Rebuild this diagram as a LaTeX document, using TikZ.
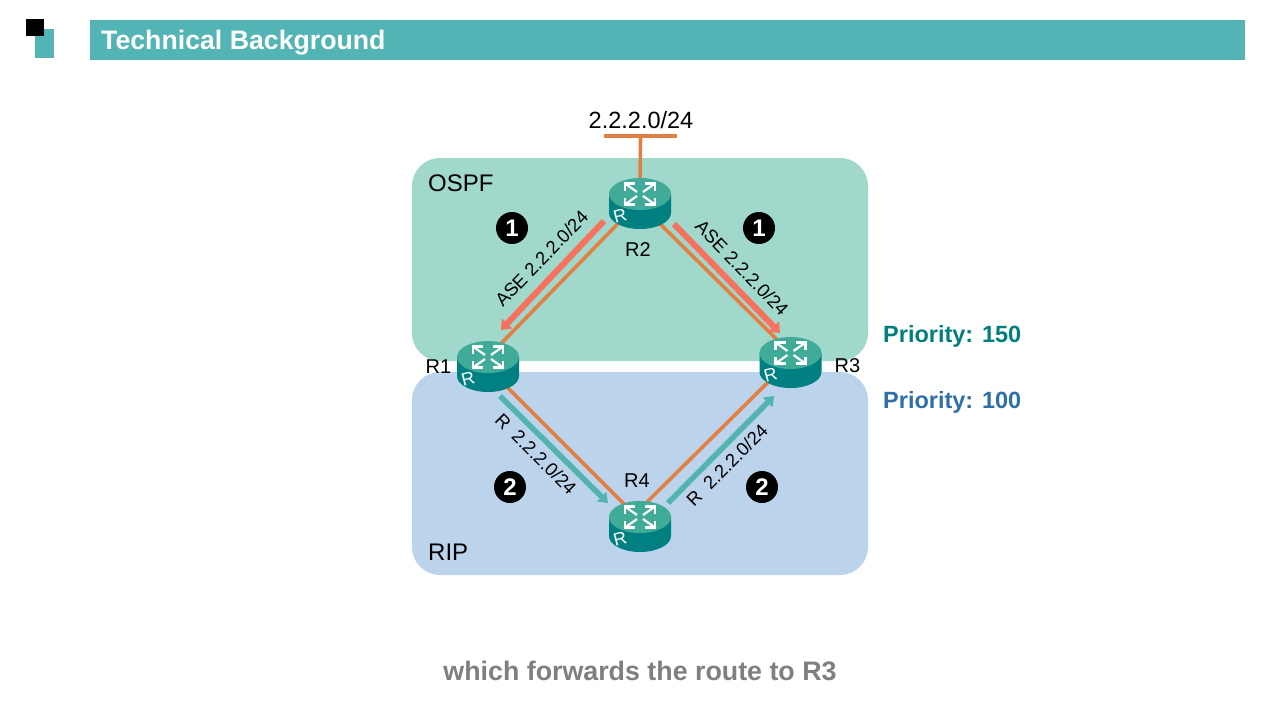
\documentclass[tikz,border=0pt]{standalone}
\usepackage{fontspec}
\setmainfont{Liberation Sans}
\usepackage{xcolor}
\usetikzlibrary{arrows.meta}
\usetikzlibrary{calc}
\definecolor{barteal}{HTML}{52B4B4}
\definecolor{ospfarea}{HTML}{A0D8CC}
\definecolor{riparea}{HTML}{BCD3EC}
\definecolor{linkorange}{HTML}{E28043}
\definecolor{asered}{HTML}{F8705E}
\definecolor{ripgreen}{HTML}{52B4AC}
\definecolor{routertop}{HTML}{3FAB98}
\definecolor{routerside}{HTML}{008080}
\definecolor{prioteal}{HTML}{007F7C}
\definecolor{prioblue}{HTML}{2F6FA8}
\definecolor{captiongrey}{HTML}{7F7F7F}
\tikzset{
  px/.style={font=\fontsize{#1}{#1}\selectfont},
  pxb/.style={font=\bfseries\fontsize{#1}{#1}\selectfont},
  area/.style={rounded corners=28pt, minimum width=456pt, inner sep=0pt},
  routerbox/.style={inner sep=0pt, minimum width=62pt, minimum height=34pt},
  link/.style={linkorange, line width=3.6pt},
  asearrow/.style={asered, line width=6pt, -{Triangle[length=9pt,width=14pt]}},
  riparrow/.style={ripgreen, line width=5.5pt, -{Triangle[length=9pt,width=13pt]}},
  badge/.style={circle, fill=black, text=white, minimum size=32pt, inner sep=0pt, pxb=24},
  pics/router/.style={code={
    \fill[routerside] (-31,0) -- (-31,19) arc[start angle=180, end angle=0, x radius=31, y radius=16] -- (31,0) -- cycle;
    \fill[routertop] (0,0) ellipse[x radius=31, y radius=16];
    \foreach \sx in {1,-1}{
      \foreach \sy in {1,-1}{
        \draw[white, line width=2.2pt, line join=miter]
          (\sx*5,\sy*10.5) -- (\sx*15,\sy*10.5) -- (\sx*15,\sy*3.5);
        \draw[white, line width=2.2pt] (\sx*15,\sy*10.5) -- (\sx*3,\sy*2);
      }
    }
    \node[white, px=18, rotate=15, inner sep=0pt] at (-20,22) {R};
  }}
}
\begin{document}
\begin{tikzpicture}[x=1pt, y=-1pt]
\useasboundingbox (0,0) rectangle (1280,720);

% header
\fill[barteal] (35,29) rectangle (54,58);
\fill[black] (26,19) rectangle (44,36);
\node[fill=barteal, minimum width=1155pt, minimum height=40pt, inner sep=0pt] (titlebar) at (667.5,40) {};
\node[anchor=west, white, pxb=26.7, inner sep=0pt] (title) at (101,43) {Technical Background};

% areas
\node[area, fill=ospfarea, minimum height=203pt] (ospf) at (640,259.5) {};
\node[area, fill=riparea, minimum height=203pt] (rip) at (640,473.5) {};
\node[px=24, anchor=west, inner sep=0pt] (ospflabel) at (428,183) {OSPF};
\node[px=24, anchor=west, inner sep=0pt] (riplabel) at (428,552) {RIP};

% routers
\node[routerbox] (r2) at (640,194) {};
\node[routerbox] (r1) at (488,357) {};
\node[routerbox] (r3) at (790.5,353) {};
\node[routerbox] (r4) at (640,517) {};

% network
\node[fill=linkorange, minimum width=73pt, minimum height=4pt, inner sep=0pt] (lan) at (640.5,136) {};
\node[px=23.5] (lanlabel) at (641,120) {2.2.2.0/24};
\draw[link] (lan.center) -- (r2.center);
\draw[link] ([yshift=-7pt]r2.center) -- (r1.center);
\draw[link] ([yshift=-10pt]r2.center) -- (r3.center);
\draw[link] ([yshift=-11pt]r1.center) -- ([yshift=-3pt]r4.center);
\draw[link] ([yshift=8pt]r4.center) -- ([yshift=-7pt]r3.center);

\pic at (r2) {router};
\pic at (r1) {router};
\pic at (r3) {router};
\pic at (r4) {router};

\node[px=20] (r1label) at (438.5,367) {R1};
\node[px=20] (r2label) at (638,250) {R2};
\node[px=20] (r3label) at (847.5,366) {R3};
\node[px=20] (r4label) at (637,481) {R4};

% route arrows
\coordinate (asea) at (604,221);
\coordinate (aseb) at (501,330);
\coordinate (asec) at (674,224);
\coordinate (ased) at (780,333);
\coordinate (ripa) at (500,396);
\coordinate (ripb) at (608,503);
\coordinate (ripc) at (668,503);
\coordinate (ripd) at (774,396);
\draw[asearrow] (asea) -- (aseb);
\draw[asearrow] (asec) -- (ased);
\draw[riparrow] (ripa) -- (ripb);
\draw[riparrow] (ripc) -- (ripd);

\node[px=18.5, rotate=46] (asel) at (541.5,258.5) {ASE 2.2.2.0/24};
\node[px=18.5, rotate=-46] (aser) at (742,268) {ASE 2.2.2.0/24};
\node[px=18.5, rotate=-45] (ripl) at (536,454) {R\ \ 2.2.2.0/24};
\node[px=18.5, rotate=45] (ripr) at (727,465) {R\ \ 2.2.2.0/24};

\node[badge] (one) at (512,228) {1};
\node[badge] (onb) at (759,228) {1};
\node[badge] (two) at (510,487) {2};
\node[badge] (twb) at (762,487) {2};

\node[anchor=west, prioteal, pxb=23.5, inner sep=0pt] (prioa) at (883,336) {Priority: 150};
\node[anchor=west, prioblue, pxb=23.5, inner sep=0pt] (priob) at (883,402) {Priority: 100};

\node[captiongrey, pxb=26.8] (caption) at (640,671) {which forwards the route to R3};
\end{tikzpicture}
\end{document}
